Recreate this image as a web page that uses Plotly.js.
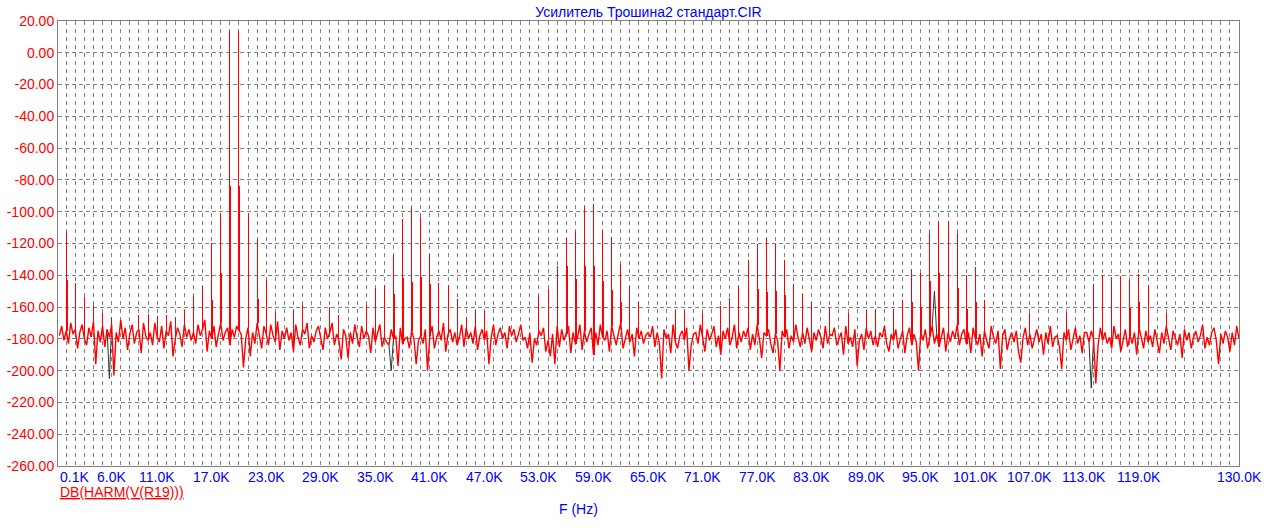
<!DOCTYPE html>
<html>
<head>
<meta charset="utf-8">
<script src="https://cdn.plot.ly/plotly-3.0.1.min.js"></script>
<style>
html,body{margin:0;padding:0;background:#fff;}
#chart{width:1276px;height:528px;}
#chart .scatterlayer .trace:nth-child(3) .js-line{shape-rendering:crispEdges;}
</style>
</head>
<body>
<div id="chart"></div>
<script>
// ---- DATA ----
var chartTitle = "Усилитель Трошина2 стандарт.CIR";
var traceLabel = "DB(HARM(V(R19)))";
var xAxisLabel = "F (Hz)";

// frequency bin spacing of the noise series (kHz); bins at 0.25, 0.5, ... 130.0
var binKHz = 0.25;

// noise floor (dB), one value per 0.25 kHz bin, 20 values = 5 kHz per row
var noiseDb = [
-178,-172,-181,-175,-183,-170,-177,-174,-186,-176,-171,-180,-184,-173,-179,-169,-196,-175,-182,-172,
-185,-174,-179,-171,-203,-176,-182,-168,-180,-173,-187,-177,-171,-183,-176,-174,-189,-170,-178,-181,
-176,-184,-170,-179,-182,-172,-186,-175,-178,-169,-191,-180,-173,-177,-185,-171,-179,-174,-181,-176,
-183,-171,-178,-174,-168,-188,-175,-180,-172,-185,-177,-170,-181,-176,-173,-184,-174,-179,-172,-175,
-177,-198,-180,-173,-191,-176,-183,-170,-179,-186,-172,-177,-184,-171,-178,-182,-169,-187,-175,-180,
-173,-181,-176,-188,-171,-179,-184,-174,-177,-170,-186,-178,-182,-175,-172,-179,-187,-173,-180,-176,
-170,-184,-177,-181,-193,-174,-178,-192,-176,-183,-171,-179,-185,-172,-180,-175,-178,-189,-173,-182,
-176,-171,-185,-179,-182,-184,-174,-180,-178,-197,-173,-183,-180,-179,-186,-175,-180,-196,-181,-178,
-183,-174,-200,-178,-172,-186,-179,-175,-181,-170,-188,-177,-174,-182,-176,-184,-179,-171,-185,-173,
-180,-176,-183,-172,-187,-178,-174,-181,-175,-196,-179,-171,-184,-177,-173,-180,-176,-186,-172,-178,
-174,-182,-177,-171,-181,-179,-186,-176,-195,-180,-184,-175,-178,-173,-188,-181,-191,-177,-196,-172,
-185,-174,-181,-177,-172,-189,-176,-183,-179,-171,-187,-175,-182,-177,-173,-190,-176,-184,-171,-179,
-181,-175,-188,-172,-178,-184,-176,-170,-186,-179,-174,-182,-177,-191,-173,-180,-175,-183,-178,-176,
-179,-172,-185,-176,-183,-205,-174,-180,-177,-189,-171,-182,-186,-178,-175,-181,-173,-200,-184,-177,
-176,-183,-171,-179,-188,-174,-181,-177,-172,-185,-178,-190,-175,-180,-173,-184,-179,-171,-186,-176,
-182,-175,-179,-173,-187,-177,-184,-171,-180,-192,-176,-178,-174,-183,-189,-177,-181,-200,-175,-179,
-174,-186,-178,-182,-171,-179,-185,-176,-183,-173,-180,-188,-176,-181,-174,-179,-186,-172,-183,-177,
-178,-173,-184,-180,-176,-190,-172,-183,-179,-185,-174,-197,-181,-177,-187,-173,-180,-175,-184,-178,
-185,-176,-179,-172,-183,-188,-177,-181,-174,-186,-180,-175,-189,-178,-173,-184,-177,-182,-200,-176,
-181,-174,-186,-178,-172,-183,-177,-185,-179,-173,-188,-176,-182,-175,-180,-171,-184,-177,-174,-183,
-176,-189,-173,-180,-184,-177,-191,-175,-181,-186,-172,-179,-183,-175,-199,-178,-174,-187,-180,-176,
-182,-175,-188,-195,-179,-173,-184,-177,-186,-180,-174,-182,-177,-190,-176,-183,-172,-185,-179,-178,
-185,-199,-176,-181,-174,-187,-180,-173,-183,-178,-189,-176,-176,-182,-175,-180,-208,-184,-173,-181,
-176,-183,-179,-186,-172,-180,-177,-188,-181,-174,-185,-178,-183,-176,-190,-173,-179,-186,-175,-182,
-178,-185,-174,-181,-189,-176,-183,-172,-180,-187,-175,-179,-184,-177,-192,-174,-181,-176,-186,-179,
-175,-182,-178,-171,-186,-179,-184,-176,-173,-181,-196,-177,-183,-175,-179,-188,-176,-184,-172,-180
];

// harmonic / intermodulation spikes (kHz, dB)
var peakKHz = [1,2,3,4,5,6,9,10,11,12,13,14,15,16,17,18,19,20,21,22,23,24,26,27,30,31,
  34,35,36,37,38,39,40,41,42,43,44,45,46,47,
  53,54,55,56,57,58,59,60,61,62,63,64,
  68,69,71,73,74,75,76,77,78,79,80,81,82,83,85,87,89,90,92,93,94,95,96,97,98,99,100,101,102,
  107,111,114,115,116,117,118,119,120,122];
var peakDb = [-113,-144.6,-153.6,-158.7,-164,-166,-165,-164.6,-165.4,-165,-166,-162,-153,-146.5,-119.6,-101.7,14,14,-100.8,-117,-143,-163,-162,-159,-160,-165,
  -159,-147.7,-146,-127.5,-104.4,-97.3,-103.5,-126.9,-145,-146,-155,-166.5,-162,-162.5,
  -153,-148.8,-134.4,-116.5,-111.9,-96.2,-95.4,-111.9,-115.6,-133,-146.5,-156.5,
  -162,-161.7,-163.7,-159.6,-154,-146.7,-130.6,-120.2,-116.7,-120.2,-130.6,-145.6,-151.9,-157,-160.8,-164,-162,-161,-161,-155.6,-135.8,-138.3,-113.3,-106,-106,-113.5,-139.6,-135,-155.6,
  -164,-163,-145.6,-139.6,-141.2,-140.4,-142.9,-139.2,-146.2,-164];

// leakage lines just beside the strongest spikes (kHz, dB)
var sideKHz = [1.1,17.1,18.1,19.1,20.1,21.1,22.1,37.1,38.1,39.1,40.1,41.1,
  56.1,57.1,58.1,59.1,60.1,61.1,62.1,76.1,77.1,78.1,79.1,80.1,
  94.1,95.1,96.1,97.1,98.1,99.1,100.1,101.1,118.1,119.1];
var sideDb = [-143,-155.4,-138.7,-84,-84,-139,-155,-152,-142,-144,-141,-145.6,
  -134,-142.5,-134.4,-134,-143.5,-149,-157,-155,-148.8,-150.4,-149.8,-152.5,
  -156.7,-159.8,-143.5,-138.7,-139.6,-148,-161,-157,-160.8,-156.7];

// second (dark) trace: only where it differs from the red one (kHz, dB)
var darkKHz = [5.75,36.75,96.5,113.75];
var darkDb = [-205,-200,-150,-211];

// axis ticks
var yTickVals = [20,0,-20,-40,-60,-80,-100,-120,-140,-160,-180,-200,-220,-240,-260];
var yTickText = ["20.00","0.00","-20.00","-40.00","-60.00","-80.00","-100.00","-120.00","-140.00","-160.00","-180.00","-200.00","-220.00","-240.00","-260.00"];
var xTickKHz = [0.1,6,11,17,23,29,35,41,47,53,59,65,71,77,83,89,95,101,107,113,119,130];
var xTickText = ["0.1K","6.0K","11.0K","17.0K","23.0K","29.0K","35.0K","41.0K","47.0K","53.0K","59.0K","65.0K","71.0K","77.0K","83.0K","89.0K","95.0K","101.0K","107.0K","113.0K","119.0K","130.0K"];

// ---- BUILD ----
function idx(f){ return Math.min(noiseDb.length - 1, Math.max(0, Math.round(f / binKHz) - 1)); }
var freq = noiseDb.map(function(_, i){ return (i + 1) * binKHz; });

// dark trace: short pieces around the bins where it departs from the red trace
var darkX = [], darkY = [];
darkKHz.forEach(function(f, k){
  var i = idx(f);
  darkX.push(freq[i - 1], freq[i], freq[i + 1], null);
  darkY.push(noiseDb[i - 1], darkDb[k], noiseDb[i + 1], null);
});

// spikes drawn as vertical strokes rising from the noise floor at their bin
var spikeX = [], spikeY = [];
peakKHz.forEach(function(f, k){ spikeX.push(f, f, null); spikeY.push(noiseDb[idx(f)], peakDb[k], null); });
sideKHz.forEach(function(f, k){ spikeX.push(f, f, null); spikeY.push(noiseDb[idx(f)], sideDb[k], null); });

var FONT = "Liberation Sans, Arial, sans-serif";
var BLUE = "#0000ff";
var RED = "#ff0000";
var GRID = "#808080";

var traces = [
  {x: darkX, y: darkY, type: "scatter", mode: "lines", connectgaps: false, line: {color: "#303030", width: 1}, hoverinfo: "skip"},
  {x: freq, y: noiseDb, type: "scatter", mode: "lines", line: {color: RED, width: 1.4}, hoverinfo: "skip"},
  {x: spikeX, y: spikeY, type: "scatter", mode: "lines", connectgaps: false, line: {color: RED, width: 1}, hoverinfo: "skip"}
];

var annotations = xTickKHz.map(function(f, k){
  return {x: f, xref: "x", y: 0, yref: "paper", yanchor: "top", yshift: -1,
    xanchor: k === 0 ? "left" : "center", text: xTickText[k], showarrow: false,
    font: {family: FONT, size: 14, color: BLUE}};
});
annotations.push({x: 0, xref: "paper", xanchor: "left", y: 0, yref: "paper", yanchor: "top", yshift: -16,
  text: "<u>" + traceLabel + "</u>", showarrow: false, font: {family: FONT, size: 14, color: RED}});
annotations.push({x: 0.441, xref: "paper", xanchor: "center", y: 0, yref: "paper", yanchor: "top", yshift: -33,
  text: xAxisLabel, showarrow: false, font: {family: FONT, size: 14, color: BLUE}});

var layout = {
  width: 1276, height: 528,
  margin: {l: 58, r: 37, t: 21, b: 62},
  paper_bgcolor: "#ffffff", plot_bgcolor: "#ffffff",
  showlegend: false,
  font: {family: FONT, size: 14},
  title: {text: chartTitle, font: {family: FONT, size: 14, color: BLUE},
    xref: "paper", x: 0.5, xanchor: "center", yref: "container", y: 0.977, yanchor: "middle"},
  xaxis: {range: [0.1, 130], tick0: 0, dtick: 1, showticklabels: false, ticks: "",
    showgrid: true, gridcolor: GRID, gridwidth: 1, griddash: "4px,4px",
    showline: true, mirror: true, linecolor: GRID, linewidth: 1, zeroline: false},
  yaxis: {range: [-260, 20], tickmode: "array", tickvals: yTickVals, ticktext: yTickText, ticks: "",
    tickfont: {family: FONT, size: 14, color: RED},
    showgrid: true, gridcolor: GRID, gridwidth: 1, griddash: "4px,3px",
    showline: true, mirror: true, linecolor: GRID, linewidth: 1, zeroline: false},
  annotations: annotations
};

Plotly.newPlot("chart", traces, layout, {staticPlot: true, displayModeBar: false});
</script>
</body>
</html>
